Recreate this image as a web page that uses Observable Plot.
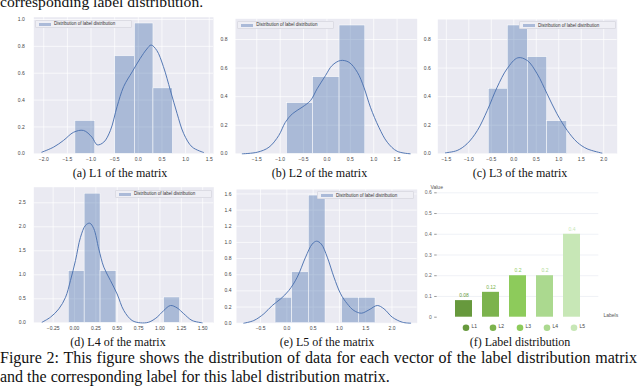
<!DOCTYPE html>
<html>
<head>
<meta charset="utf-8">
<script src="https://cdn.jsdelivr.net/npm/d3@7"></script>
<script src="https://cdn.jsdelivr.net/npm/@observablehq/plot@0.6"></script>
<style>
  html, body { margin: 0; padding: 0; background: #fff; }
  #root { position: relative; width: 640px; height: 387px; overflow: hidden; background: #fff; }
  .panel { position: absolute; }
  .cap { position: absolute; font-family: "Liberation Serif", "Times New Roman", serif; color: #111; white-space: nowrap; }
  .sub { font-size: 12px; line-height: 12px; transform: translateX(-50%); }
  .body { font-size: 16px; line-height: 18px; }
  .top { font-size: 15.6px; line-height: 19px; }
  .just { width: 637px; text-align: justify; text-align-last: justify; white-space: normal; }
  .lg { position: absolute; width: 97px; height: 8px; background: #EFEFF5; border: 0.5px solid #DCDCE4; border-radius: 1px; box-sizing: border-box; font-family: "Liberation Sans", Arial, sans-serif; font-size: 4.5px; color: #333; }
  .lg .sw { position: absolute; left: 3px; top: 2.3px; width: 11.7px; height: 3.2px; background: #ABBAD8; }
  .lg .tx { position: absolute; left: 18px; top: 1.6px; line-height: 4.5px; white-space: nowrap; }
</style>
</head>
<body>
<div id="root"></div>
<script>
// ---------- data ----------
// (a) L1
const aEdges   = [-1.33, -0.91, -0.49, -0.07, 0.32, 0.73];
const aDensity = [0.244, 0, 0.726, 0.97, 0.487];
const aKdeX = [-2.04,-1.79,-1.58,-1.37,-1.16,-0.98,-0.87,-0.73,-0.59,-0.45,-0.31,-0.13,0.04,0.18,0.27,0.39,0.53,0.68,0.82,0.96,1.14,1.38];
const aKdeY = [0.012,0.05,0.10,0.16,0.174,0.124,0.067,0.087,0.174,0.35,0.50,0.61,0.71,0.78,0.81,0.77,0.65,0.47,0.30,0.15,0.05,0.01];
const aXTicks = [-2.0,-1.5,-1.0,-0.5,0.0,0.5,1.0,1.5];
const aYTicks = [0,0.2,0.4,0.6,0.8,1.0];
// (b) L2
const bEdges   = [-0.85, -0.295, 0.27, 0.82];
const bDensity = [0.354, 0.536, 0.898];
const bKdeX = [-1.81,-1.49,-1.24,-1.03,-0.89,-0.74,-0.53,-0.35,-0.21,-0.03,0.11,0.29,0.47,0.65,0.79,0.93,1.11,1.29,1.50,1.78];
const bKdeY = [0,0.011,0.046,0.128,0.22,0.28,0.326,0.373,0.455,0.548,0.618,0.653,0.641,0.571,0.466,0.326,0.186,0.081,0.018,0];
const bXTicks = [-1.5,-1.0,-0.5,0.0,0.5,1.0,1.5];
const bYTicks = [0,0.2,0.4,0.6,0.8];
// (c) L3
const cEdges   = [-0.556, -0.133, 0.311, 0.742, 1.187];
const cDensity = [0.455, 0.898, 0.676, 0.228];
const cKdeX = [-1.52,-1.26,-1.04,-0.81,-0.59,-0.37,-0.15,0.09,0.30,0.52,0.74,0.96,1.19,1.41,1.63,1.96];
const cKdeY = [0.007,0.023,0.07,0.163,0.303,0.466,0.595,0.672,0.653,0.56,0.42,0.28,0.163,0.081,0.035,0.005];
const cXTicks = [-1.5,-1.0,-0.5,0.0,0.5,1.0,1.5,2.0];
const cYTicks = [0,0.2,0.4,0.6,0.8];
// (d) L4
const dEdges   = [-0.067, 0.119, 0.305, 0.491, 0.677, 0.863, 1.049, 1.235];
const dDensity = [1.075, 2.69, 1.075, 0, 0, 0, 0.527];
const dKdeX = [-0.378,-0.281,-0.183,-0.105,-0.047,0.012,0.070,0.129,0.179,0.226,0.284,0.343,0.421,0.499,0.577,0.674,0.772,0.869,0.967,1.044,1.123,1.201,1.278,1.376,1.494];
const dKdeY = [0.013,0.117,0.29,0.53,0.88,1.30,1.78,2.03,2.075,1.96,1.54,1.16,0.88,0.60,0.256,0.048,0.0,0.013,0.117,0.256,0.36,0.31,0.19,0.048,0];
const dXTicks = [-0.25,0.0,0.25,0.5,0.75,1.0,1.25,1.5];
const dYTicks = [0,0.5,1.0,1.5,2.0,2.5];
// (e) L5
const eEdges   = [-0.215, 0.102, 0.419, 0.736, 1.053, 1.370, 1.687];
const eDensity = [0.315, 0.63, 1.58, 0, 0.315, 0.315];
const eKdeX = [-0.819,-0.629,-0.438,-0.278,-0.12,0.038,0.198,0.356,0.483,0.566,0.655,0.769,0.896,1.023,1.15,1.276,1.417,1.562,1.72,1.848,2.007,2.198,2.356];
const eKdeY = [0,0.033,0.116,0.219,0.30,0.405,0.57,0.817,0.98,1.015,0.98,0.817,0.57,0.364,0.24,0.157,0.124,0.165,0.219,0.178,0.074,0.012,0];
const eXTicks = [-0.5,0.0,0.5,1.0,1.5,2.0];
const eYTicks = [0,0.2,0.4,0.6,0.8,1.0,1.2,1.4,1.6];
// (f) label distribution
const fLabels = ["L1","L2","L3","L4","L5"];
const fValues = [0.08, 0.12, 0.2, 0.2, 0.4];
const fColors = ["#67993D","#7CB34D","#8DCB5B","#ABD98F","#C7E7B6"];
const fYTicks = [0,0.1,0.2,0.3,0.4,0.5,0.6];

const root = document.getElementById("root");
const BLUE = "#4C72B0";

function place(node, left, top) {
  const div = document.createElement("div");
  div.className = "panel";
  div.style.left = left + "px";
  div.style.top = top + "px";
  div.appendChild(node);
  root.appendChild(div);
}

function distPanel(o) {
  const bins = o.density.map((d, i) => ({x1: o.edges[i], x2: o.edges[i + 1], y: d})).filter(b => b.y > 0);
  const kde = o.kx.map((x, i) => ({x, y: o.ky[i]}));
  return Plot.plot({
    width: o.width, height: o.height,
    marginLeft: o.m[0], marginRight: o.m[1], marginTop: o.m[2], marginBottom: o.m[3],
    style: {fontFamily: "'Liberation Sans', Arial, sans-serif", fontSize: "5px", background: "transparent", overflow: "visible"},
    x: {domain: o.xDomain, label: null},
    y: {domain: o.yDomain, label: null},
    marks: [
      Plot.frame({fill: "#EAEAF2", stroke: null}),
      Plot.gridX(o.xTicks, {stroke: "#fff", strokeOpacity: 1, strokeWidth: 0.7}),
      Plot.gridY(o.yTicks, {stroke: "#fff", strokeOpacity: 1, strokeWidth: 0.7}),
      Plot.rect(bins, {x1: "x1", x2: "x2", y1: 0, y2: "y", fill: BLUE, fillOpacity: 0.4, stroke: "#fff", strokeWidth: 0.5}),
      Plot.line(kde, {x: "x", y: "y", stroke: BLUE, strokeWidth: 0.95, curve: "catmull-rom"}),
      Plot.axisX(o.xTicks, {label: null, tickSize: 0, tickPadding: 3.5, tickFormat: d3.format(o.xFmt), fontSize: 5, fill: "#444"}),
      Plot.axisY(o.yTicks, {label: null, tickSize: 0, tickPadding: o.yPad, tickFormat: d3.format(o.yFmt), fontSize: 5, fill: "#444"})
    ]
  });
}

place(distPanel({edges: aEdges, density: aDensity, kx: aKdeX, ky: aKdeY, xTicks: aXTicks, yTicks: aYTicks,
  xDomain: [-2.21, 1.59], yDomain: [0, 1.017], xFmt: ".1f", yFmt: ".1f", yPad: 9,
  width: 215, height: 165, m: [33.3, 2, 16.7, 11.7]}), 0, 0);

place(distPanel({edges: bEdges, density: bDensity, kx: bKdeX, ky: bKdeY, xTicks: bXTicks, yTicks: bYTicks,
  xDomain: [-1.955, 1.93], yDomain: [0, 0.945], xFmt: ".1f", yFmt: ".1f", yPad: 8,
  width: 215, height: 165, m: [25, 8.3, 18.3, 11.7]}), 210, 0);

place(distPanel({edges: cEdges, density: cDensity, kx: cKdeX, ky: cKdeY, xTicks: cXTicks, yTicks: cYTicks,
  xDomain: [-1.69, 2.30], yDomain: [0, 0.94], xFmt: ".1f", yFmt: ".1f", yPad: 7,
  width: 220, height: 165, m: [17.3, 23.3, 19, 11.7]}), 420, 0);

place(distPanel({edges: dEdges, density: dDensity, kx: dKdeX, ky: dKdeY, xTicks: dXTicks, yTicks: dYTicks,
  xDomain: [-0.476, 1.63], yDomain: [0, 2.825], xFmt: ".2f", yFmt: ".1f", yPad: 8,
  width: 215, height: 165, m: [33.3, 1.7, 16.7, 12.7]}), 0, 170);

place(distPanel({edges: eEdges, density: eDensity, kx: eKdeX, ky: eKdeY, xTicks: eXTicks, yTicks: eYTicks,
  xDomain: [-0.958, 2.48], yDomain: [0, 1.655], xFmt: ".1f", yFmt: ".1f", yPad: 5,
  width: 215, height: 165, m: [26, 8.3, 19, 12.3]}), 210, 170);

// (f) bar chart
const fRows = fLabels.map((l, i) => ({label: l, value: fValues[i]}));
place(Plot.plot({
  width: 220, height: 170,
  marginLeft: 16.7, marginRight: 41.7, marginTop: 22.3, marginBottom: 23.3,
  style: {fontFamily: "'Liberation Sans', Arial, sans-serif", fontSize: "5px", background: "transparent", overflow: "visible"},
  x: {type: "band", domain: fLabels, range: [28, 167], paddingInner: 0.37, paddingOuter: 0.185, axis: null, label: null},
  y: {domain: [0, 0.6], axis: null, label: null},
  color: {domain: fLabels, range: fColors},
  marks: [
    Plot.gridY(fYTicks.slice(1), {stroke: "#E4E8F0", strokeOpacity: 1, strokeWidth: 0.6}),
    Plot.axisY(fYTicks, {anchor: "left", label: null, tickSize: 2.5, tickPadding: 3, stroke: "#999", tickFormat: d3.format("~f"), fontSize: 5, fill: "#666"}),
    Plot.barY(fRows, {x: "label", y: "value", fill: "label"}),
    Plot.text(fRows, {x: "label", y: "value", text: d => d3.format("~f")(d.value), dy: -5, fill: "label", fontSize: 5}),
    Plot.dot(fRows, {x: "label", frameAnchor: "bottom", dy: 10.6, dx: 2, r: 3.3, fill: "label", stroke: null}),
    Plot.text(fRows, {x: "label", frameAnchor: "bottom", dy: 10.6, dx: 7.5, text: "label", textAnchor: "start", fontSize: 5, fill: "#444"}),
    Plot.text(["Value"], {frameAnchor: "top-left", dx: -6.7, dy: -7.3, textAnchor: "start", fontSize: 5, fill: "#555"}),
    Plot.text(["Labels"], {frameAnchor: "bottom-right", dx: 4.7, textAnchor: "start", fontSize: 5, fill: "#555"})
  ]
}), 420, 170);

// legends (seaborn style)
function legend(left, top) {
  const d = document.createElement("div");
  d.className = "lg";
  d.style.left = left + "px";
  d.style.top = top + "px";
  d.innerHTML = '<span class="sw"></span><span class="tx">Distribution of label distribution</span>';
  root.appendChild(d);
}
legend(35, 19.5);
legend(237.3, 20.7);
legend(519, 21);
legend(115, 189.5);
legend(317, 191);

// captions
function cap(text, cls, left, top) {
  const d = document.createElement("div");
  d.className = "cap " + cls;
  d.style.left = left + "px";
  d.style.top = top + "px";
  d.textContent = text;
  root.appendChild(d);
  return d;
}
cap("corresponding label distribution.", "top", 0, -8);
cap("(a) L1 of the matrix", "sub", 120, 167);
cap("(b) L2 of the matrix", "sub", 319.5, 167);
cap("(c) L3 of the matrix", "sub", 520, 167);
cap("(d) L4 of the matrix", "sub", 118, 335.5);
cap("(e) L5 of the matrix", "sub", 327, 335.5);
cap("(f) Label distribution", "sub", 520, 335.5);
cap("Figure 2: This figure shows the distribution of data for each vector of the label distribution matrix", "body just", 0, 348.5);
cap("and the corresponding label for this label distribution matrix.", "body", 0, 367.5);
</script>
</body>
</html>
